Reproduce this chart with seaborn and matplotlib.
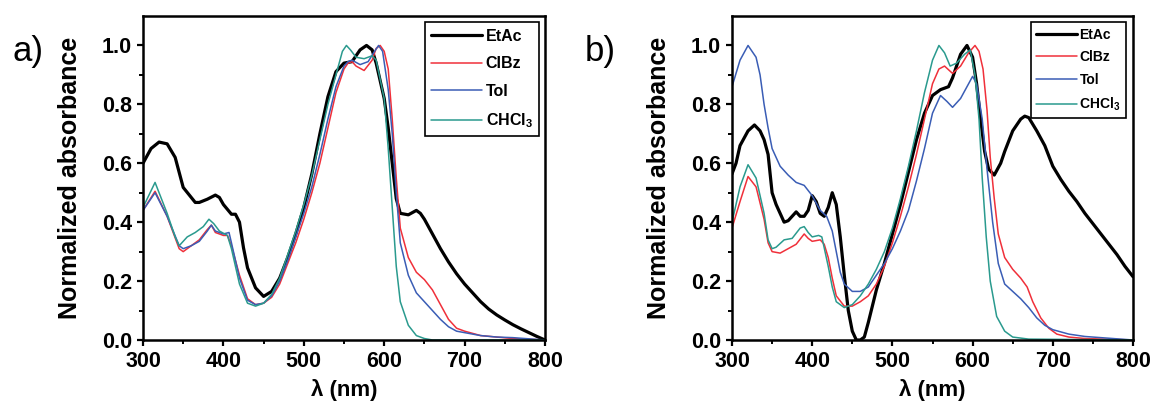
import numpy as np
import matplotlib
matplotlib.use("Agg")
import matplotlib.pyplot as plt
import seaborn as sns

sns.set_style("ticks")
plt.rcParams["font.family"] = ["Liberation Sans", "DejaVu Sans"]
plt.rcParams["mathtext.fontset"] = "custom"
plt.rcParams["mathtext.rm"] = "Liberation Sans:bold"
plt.rcParams["mathtext.bf"] = "Liberation Sans:bold"
plt.rcParams["mathtext.default"] = "bf"
for k in ["text.color", "axes.labelcolor", "xtick.color", "ytick.color", "axes.edgecolor"]:
    plt.rcParams[k] = "black"

# ---- data (wavelength nm, normalized absorbance) ----
# a) EtAc
a_etac_nm = [300, 310, 320, 330, 340, 350, 360, 365, 370, 380, 390, 395, 400, 410, 415, 420,
             425, 430, 440, 450, 460, 470, 480, 490, 500, 510, 520, 530, 540, 550, 560, 570,
             578, 585, 590, 600, 605, 610, 615, 620, 630, 640, 645, 650, 660, 670, 680, 690,
             700, 710, 720, 730, 740, 750, 760, 770, 780, 790, 800]
a_etac_abs = [0.60, 0.65, 0.672, 0.666, 0.62, 0.518, 0.484, 0.467, 0.467, 0.478, 0.492, 0.484,
              0.46, 0.427, 0.427, 0.40, 0.313, 0.245, 0.177, 0.148, 0.165, 0.21, 0.28, 0.36,
              0.45, 0.564, 0.70, 0.826, 0.911, 0.94, 0.945, 0.985, 1.0, 0.985, 0.94, 0.82, 0.72,
              0.60, 0.48, 0.43, 0.425, 0.44, 0.43, 0.41, 0.36, 0.31, 0.265, 0.225, 0.19, 0.16,
              0.13, 0.105, 0.085, 0.068, 0.052, 0.038, 0.025, 0.012, 0.0]
# a) ClBz
a_clbz_nm = [300, 315, 330, 345, 350, 360, 370, 380, 385, 390, 400, 405, 410, 420, 430, 440,
             450, 460, 470, 480, 490, 500, 510, 520, 530, 540, 550, 555, 560, 565, 575, 585,
             590, 595, 600, 605, 610, 615, 620, 630, 640, 650, 660, 670, 680, 690, 700, 720,
             740, 760, 800]
a_clbz_abs = [0.44, 0.505, 0.42, 0.31, 0.30, 0.32, 0.34, 0.375, 0.39, 0.365, 0.355, 0.355,
              0.32, 0.22, 0.14, 0.12, 0.125, 0.145, 0.19, 0.26, 0.33, 0.41, 0.50, 0.60, 0.72,
              0.84, 0.92, 0.94, 0.945, 0.93, 0.915, 0.95, 0.99, 1.0, 0.98, 0.92, 0.75, 0.55,
              0.38, 0.28, 0.23, 0.205, 0.17, 0.12, 0.07, 0.04, 0.03, 0.015, 0.01, 0.005, 0.0]
# a) Tol
a_tol_nm = [300, 315, 330, 345, 350, 360, 370, 380, 385, 390, 400, 407, 410, 420, 430, 440,
            450, 460, 470, 480, 490, 500, 510, 520, 530, 540, 550, 555, 560, 570, 580, 588,
            593, 598, 605, 610, 615, 620, 630, 640, 650, 660, 670, 680, 690, 700, 720, 740,
            760, 800]
a_tol_abs = [0.44, 0.50, 0.42, 0.32, 0.31, 0.32, 0.335, 0.37, 0.39, 0.37, 0.36, 0.365, 0.33,
             0.21, 0.135, 0.12, 0.125, 0.15, 0.20, 0.27, 0.35, 0.43, 0.52, 0.63, 0.75, 0.86,
             0.93, 0.945, 0.95, 0.935, 0.945, 0.98, 1.0, 0.98, 0.85, 0.70, 0.50, 0.33, 0.22,
             0.16, 0.13, 0.10, 0.07, 0.045, 0.03, 0.025, 0.015, 0.01, 0.008, 0.0]
# a) CHCl3
a_chcl_nm = [300, 315, 330, 340, 345, 355, 365, 375, 382, 388, 395, 405, 410, 420, 430, 440,
             450, 460, 470, 480, 490, 500, 510, 520, 530, 540, 548, 553, 558, 565, 575, 585,
             590, 600, 605, 610, 615, 620, 630, 640, 650, 660, 800]
a_chcl_abs = [0.45, 0.535, 0.43, 0.35, 0.32, 0.35, 0.365, 0.385, 0.41, 0.395, 0.37, 0.355,
              0.31, 0.19, 0.125, 0.115, 0.125, 0.155, 0.21, 0.29, 0.37, 0.46, 0.56, 0.68, 0.80,
              0.90, 0.98, 1.0, 0.985, 0.96, 0.955, 0.965, 0.95, 0.82, 0.65, 0.45, 0.25, 0.13,
              0.05, 0.015, 0.005, 0.0, 0.0]

# b) EtAc
b_etac_nm = [300, 305, 310, 320, 328, 335, 340, 345, 350, 355, 360, 365, 370, 375, 380, 385,
             390, 395, 400, 405, 410, 415, 420, 425, 430, 435, 440, 445, 450, 455, 460, 465,
             470, 480, 490, 500, 510, 520, 530, 540, 550, 560, 570, 575, 580, 585, 593, 600,
             605, 610, 615, 620, 627, 635, 640, 650, 660, 665, 670, 680, 690, 700, 710, 720,
             730, 740, 750, 760, 770, 780, 790, 800]
b_etac_abs = [0.564, 0.60, 0.66, 0.71, 0.73, 0.71, 0.68, 0.63, 0.50, 0.46, 0.43, 0.40, 0.405,
              0.42, 0.435, 0.42, 0.42, 0.44, 0.49, 0.47, 0.43, 0.42, 0.45, 0.50, 0.46, 0.35,
              0.22, 0.10, 0.03, 0.0, 0.0, 0.01, 0.06, 0.17, 0.26, 0.36, 0.46, 0.57, 0.68, 0.77,
              0.83, 0.85, 0.86, 0.89, 0.93, 0.97, 1.0, 0.96, 0.87, 0.75, 0.64, 0.58, 0.56, 0.60,
              0.64, 0.71, 0.75, 0.76, 0.755, 0.71, 0.66, 0.59, 0.545, 0.505, 0.47, 0.43, 0.395,
              0.36, 0.325, 0.29, 0.25, 0.215]
# b) ClBz
b_clbz_nm = [300, 310, 320, 330, 340, 345, 350, 360, 370, 380, 390, 395, 400, 410, 415, 420,
             425, 430, 440, 450, 460, 470, 480, 490, 500, 510, 520, 530, 540, 550, 558, 565,
             575, 585, 595, 603, 608, 613, 618, 622, 627, 632, 640, 650, 660, 668, 675, 685,
             695, 705, 720, 740, 800]
b_clbz_abs = [0.38, 0.47, 0.555, 0.52, 0.41, 0.33, 0.30, 0.295, 0.31, 0.325, 0.36, 0.345,
              0.335, 0.34, 0.325, 0.28, 0.21, 0.15, 0.115, 0.115, 0.13, 0.15, 0.19, 0.25, 0.33,
              0.42, 0.52, 0.63, 0.75, 0.87, 0.92, 0.93, 0.905, 0.93, 0.975, 1.0, 0.98, 0.92,
              0.78, 0.62, 0.48, 0.36, 0.28, 0.24, 0.21, 0.18, 0.13, 0.075, 0.04, 0.02, 0.01,
              0.005, 0.0]
# b) Tol
b_tol_nm = [300, 310, 320, 330, 335, 340, 345, 350, 360, 370, 380, 390, 400, 410, 418, 425,
            430, 435, 440, 450, 460, 470, 480, 490, 500, 510, 520, 530, 540, 550, 560, 568,
            575, 585, 595, 600, 605, 612, 618, 625, 632, 640, 650, 660, 670, 680, 690, 700,
            720, 740, 760, 780, 800]
b_tol_abs = [0.86, 0.95, 1.0, 0.96, 0.90, 0.80, 0.72, 0.65, 0.59, 0.56, 0.535, 0.525, 0.49,
             0.44, 0.42, 0.37, 0.30, 0.23, 0.19, 0.165, 0.165, 0.18, 0.22, 0.26, 0.31, 0.37,
             0.44, 0.54, 0.65, 0.77, 0.83, 0.81, 0.79, 0.82, 0.87, 0.895, 0.87, 0.75, 0.58,
             0.40, 0.26, 0.19, 0.165, 0.14, 0.11, 0.075, 0.05, 0.035, 0.02, 0.012, 0.008,
             0.004, 0.0]
# b) CHCl3
b_chcl_nm = [300, 310, 320, 330, 340, 345, 350, 355, 365, 375, 385, 390, 395, 400, 408, 412,
             420, 425, 430, 440, 450, 460, 470, 480, 490, 500, 510, 520, 530, 540, 550, 558,
             565, 572, 580, 590, 597, 603, 608, 612, 617, 622, 630, 640, 650, 670, 800]
b_chcl_abs = [0.40, 0.52, 0.595, 0.55, 0.43, 0.34, 0.31, 0.315, 0.34, 0.345, 0.38, 0.385,
              0.365, 0.35, 0.355, 0.35, 0.25, 0.18, 0.13, 0.11, 0.12, 0.15, 0.19, 0.24, 0.30,
              0.38, 0.48, 0.59, 0.71, 0.84, 0.95, 1.0, 0.975, 0.93, 0.94, 0.97, 0.985, 0.90,
              0.75, 0.55, 0.35, 0.20, 0.08, 0.03, 0.01, 0.003, 0.0]

solvents = ["EtAc", "ClBz", "Tol", r"CHCl$_3$"]
colors = ["#000000", "#F0303A", "#3A5DB5", "#2A9A8E"]
widths = [2.3, 1.1, 1.1, 1.1]

panels = {
    "a)": [(a_etac_nm, a_etac_abs), (a_clbz_nm, a_clbz_abs), (a_tol_nm, a_tol_abs), (a_chcl_nm, a_chcl_abs)],
    "b)": [(b_etac_nm, b_etac_abs), (b_clbz_nm, b_clbz_abs), (b_tol_nm, b_tol_abs), (b_chcl_nm, b_chcl_abs)],
}

fig = plt.figure(figsize=(11.53, 4.03), dpi=100, facecolor="w")
ax_a = fig.add_axes([143 / 1153, 63 / 403, 402 / 1153, 324 / 403])
ax_b = fig.add_axes([732 / 1153, 63 / 403, 401 / 1153, 324 / 403])

leg_opts = {
    "a)": dict(fontsize=11.5, handlelength=3.2, labelspacing=0.78, bbox=(0.993, 0.99)),
    "b)": dict(fontsize=10, handlelength=2.9, labelspacing=0.62, bbox=(0.99, 0.99)),
}

for (tag, series), ax, fx in zip(panels.items(), [ax_a, ax_b], [12, 585]):
    for (nm, ab), name, c, lw in zip(series, solvents, colors, widths):
        sns.lineplot(x=nm, y=ab, ax=ax, color=c, lw=lw, label=name, estimator=None, sort=False)
    ax.set_xlim(300, 800)
    ax.set_ylim(0, 1.1)
    ax.set_xticks(np.arange(300, 801, 100))
    ax.set_xticks(np.arange(350, 800, 100), minor=True)
    ax.set_yticks(np.arange(0, 1.01, 0.2))
    ax.set_yticks(np.arange(0.1, 1.1, 0.2), minor=True)
    ax.yaxis.set_major_formatter(matplotlib.ticker.FormatStrFormatter("%.1f"))
    ax.tick_params(which="major", direction="out", length=4, width=1.6, pad=4,
                   labelsize=15.5, colors="black")
    ax.tick_params(which="minor", direction="out", length=3, width=1.4, colors="black")
    for lab in ax.get_xticklabels() + ax.get_yticklabels():
        lab.set_fontweight("bold")
    for sp in ax.spines.values():
        sp.set_linewidth(1.8)
        sp.set_color("black")
        sp.set_visible(True)
    ax.set_xlabel("λ (nm)", fontsize=16, fontweight="bold", labelpad=5)
    ax.set_ylabel("Normalized absorbance", fontsize=18, fontweight="bold", labelpad=14)
    o = leg_opts[tag]
    leg = ax.legend(loc="upper right", bbox_to_anchor=o["bbox"],
                    handlelength=o["handlelength"], labelspacing=o["labelspacing"],
                    handletextpad=0.2, borderpad=0.4, borderaxespad=0.2,
                    frameon=True, fancybox=False, framealpha=1, edgecolor="k",
                    prop={"weight": "bold", "size": o["fontsize"]})
    leg.get_frame().set_linewidth(1.2)
    fig.text(fx / 1153, 1 - 52 / 403, tag, fontsize=25, va="center", ha="left")

fig.savefig("out.png", dpi=100, facecolor="w")
